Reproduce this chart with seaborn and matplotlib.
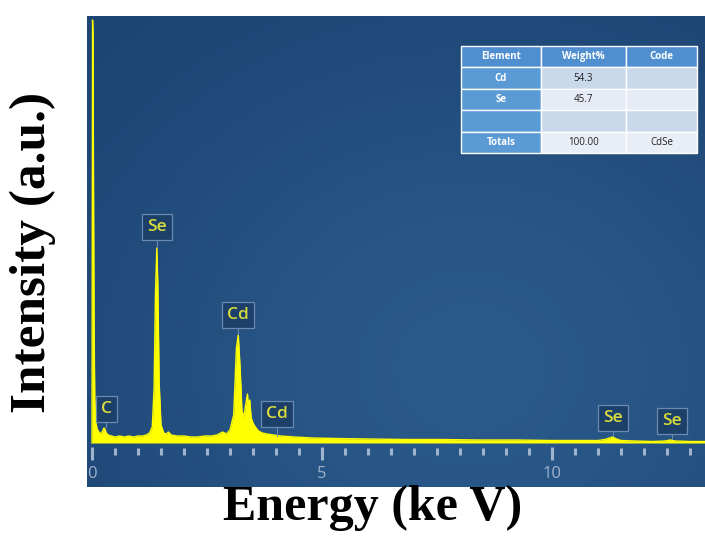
import numpy as np
import pandas as pd
import matplotlib
matplotlib.use("Agg")
import matplotlib.pyplot as plt
import seaborn as sns

# EDS spectrum (keV, counts in arbitrary units)
energy = [0.00, 0.012, 0.02, 0.03, 0.045, 0.06, 0.08, 0.11, 0.15, 0.19, 0.23, 0.26,
          0.28, 0.31, 0.35, 0.42, 0.50, 0.60, 0.70, 0.80, 0.90, 1.00, 1.10, 1.18,
          1.25, 1.31, 1.35, 1.38, 1.41, 1.43, 1.46, 1.50, 1.56, 1.62, 1.66, 1.72,
          1.85, 2.00, 2.15, 2.30, 2.45, 2.60, 2.72, 2.84, 2.92, 3.00, 3.08, 3.14,
          3.18, 3.22, 3.26, 3.30, 3.34, 3.38, 3.40, 3.43, 3.46, 3.50, 3.55, 3.62,
          3.70, 3.80, 3.95, 4.10, 4.40, 4.80, 5.30, 6.00, 6.80, 7.60, 8.40, 9.20,
          10.0, 10.6, 11.0, 11.15, 11.25, 11.32, 11.40, 11.50, 11.80, 12.20,
          12.45, 12.57, 12.68, 13.00, 13.40]
counts = [0, 423, 410, 300, 120, 45, 22, 14, 11, 9, 12, 15,
          14, 10, 8, 7, 6, 7, 6, 7, 6, 7, 7, 8,
          10, 16, 55, 150, 195, 160, 60, 18, 10, 9, 11, 8,
          7, 7, 6, 6, 7, 7, 8, 11, 9, 13, 28, 95,
          108, 75, 32, 26, 38, 49, 36, 43, 25, 20, 16, 12,
          10, 9, 8, 7, 6, 5, 4.5, 4, 3.5, 3.5, 3, 3,
          2.5, 2.5, 2.5, 3.5, 5, 6, 4, 2.5, 2, 1.5,
          2, 3, 2, 1.5, 1.5]

# peak markers: element, energy of marker, height of marker box centre, peak top
peak_labels = ["C", "Se", "Cd", "Cd", "Se", "Se"]
peak_energy = [0.31, 1.42, 3.17, 4.02, 11.32, 12.60]
label_height = [34, 216, 128, 29, 25, 22]
peak_top = [15, 195, 108, 6, 6, 3]

# quantification table
tbl_cols = ["Element", "Weight%", "Code"]
tbl_element = ["Cd", "Se", "", "Totals"]
tbl_weight = ["54.3", "45.7", "", "100.00"]
tbl_code = ["", "", "", "CdSe"]

major_ticks = [0, 5, 10]
minor_ticks = [i * 0.5 for i in range(27)]

spec = pd.DataFrame({"energy": energy, "counts": counts})

YELLOW = "#ffff00"
LABEL_TXT = "#d9dc3c"
TICK_COL = "#9fb3cc"
BOX_EDGE = "#6a8ab2"

fig = plt.figure(figsize=(7.05, 5.38), dpi=100)
ax = fig.add_axes([87 / 705, 1 - 487 / 538, 618 / 705, 471 / 538])
xlim = (-5 / 46, 613 / 46)
ylim = (-44, 427)

# soft lighting on the panel background
gy, gx = np.mgrid[0:1:200j, 0:1:200j]
glow = np.exp(-((gx - 0.62) ** 2 / 0.35 + (gy - 0.25) ** 2 / 0.45))
bg_cmap = matplotlib.colors.LinearSegmentedColormap.from_list("bg", ["#1d4574", "#2a5a8a"])
ax.imshow(glow, extent=[xlim[0], xlim[1], ylim[1], ylim[0]], cmap=bg_cmap,
          aspect="auto", zorder=0)

ax.fill_between(spec["energy"], 0, spec["counts"], color=YELLOW, lw=0, zorder=2)
sns.lineplot(data=spec, x="energy", y="counts", color=YELLOW, lw=1.0, ax=ax, zorder=3)
ax.set_xlim(*xlim)
ax.set_ylim(*ylim)

# axis ticks drawn inside the panel
ax.vlines(minor_ticks, -12, -5, color=TICK_COL, lw=2.2, zorder=2)
ax.vlines(major_ticks, -17, -4, color=TICK_COL, lw=2.2, zorder=2)
for t in major_ticks:
    ax.text(t, -31, str(t), color=TICK_COL, ha="center", va="center",
            fontsize=12, family="Open Sans")

for lab, e, h, top in zip(peak_labels, peak_energy, label_height, peak_top):
    ax.plot([e, e], [h - 13, top + 1], color=BOX_EDGE, lw=0.8, zorder=4)
    ax.text(e, h, lab, color=LABEL_TXT, ha="center", va="center", fontsize=12.5,
            family="Open Sans", fontweight="semibold", zorder=5,
            bbox=dict(boxstyle="square,pad=0.3", fc="#1c4069", ec=BOX_EDGE, lw=0.9))

for s in ax.spines.values():
    s.set_visible(False)
ax.set_xticks([])
ax.set_yticks([])
ax.set_xlabel("")
ax.set_ylabel("")

rows = [[a, b, c] for a, b, c in zip(tbl_element, tbl_weight, tbl_code)]
table = ax.table(cellText=rows, colLabels=tbl_cols, cellLoc="center",
                 colWidths=[80, 85, 71],
                 bbox=[(461 - 87) / 618, (487 - 153) / 471, 236 / 618, 107 / 471])
table.auto_set_font_size(False)
row_fill = ["#cad8ec", "#e6ebf5", "#cad8ec", "#e9edf5"]
for (r, c), cell in table.get_celld().items():
    cell.set_edgecolor("white")
    cell.set_linewidth(1.0)
    txt = cell.get_text()
    txt.set_fontsize(7)
    txt.set_family("Open Sans")
    if r == 0:
        cell.set_facecolor("#4f8fd0")
        txt.set_color("white")
        txt.set_fontweight("bold")
    elif c == 0:
        cell.set_facecolor("#5b9bd5")
        txt.set_color("white")
        txt.set_fontweight("bold")
    else:
        cell.set_facecolor(row_fill[r - 1])
        txt.set_color("#222222")
table.set_zorder(6)

fig.text(33 / 705, 1 - 252 / 538, "Intensity (a.u.)", rotation=90, ha="center",
         va="center", fontsize=37, fontweight="bold", family="Liberation Serif")
fig.text(373 / 705, 1 - 508 / 538, "Energy (ke V)", ha="center", va="center",
         fontsize=36, fontweight="bold", family="Liberation Serif")

fig.savefig("out.png", dpi=100)
